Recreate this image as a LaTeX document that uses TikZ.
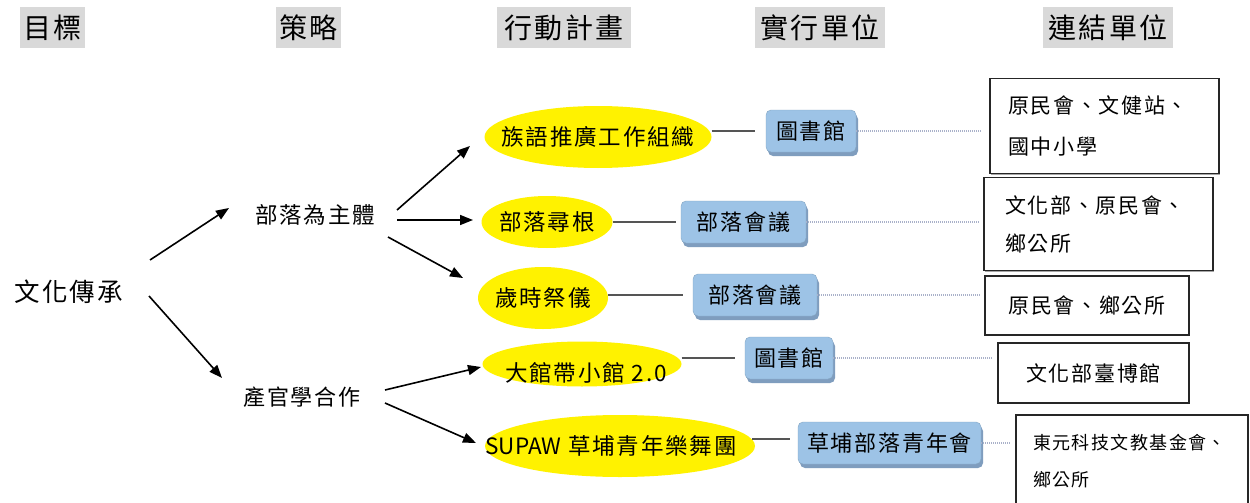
\documentclass[tikz,border=0pt]{standalone}
\usepackage{fontspec}
\setmainfont{Noto Sans CJK TC}
\usetikzlibrary{shapes.geometric,arrows.meta,calc,shadows}
\definecolor{hdr}{HTML}{D9D9D9}
\definecolor{bluebox}{HTML}{9DC3E6}
\definecolor{blueshadow}{HTML}{7F9DBE}
\definecolor{dotcol}{HTML}{A9B1C9}
\definecolor{linecol}{HTML}{555555}
\newcommand{\myfs}[2]{\fontsize{#1}{#2}\selectfont\addfontfeature{LetterSpace=8}}
\begin{document}
\begin{tikzpicture}[x=1pt,y=-1pt,
  hdrbox/.style={fill=hdr,inner sep=0pt,minimum height=41pt,font=\myfs{28}{28}},
  txt/.style={inner sep=0pt},
  ell/.style={ellipse,fill=yellow,inner sep=0pt,font=\myfs{22.5}{22.5}},
  bbox/.style={rectangle,rounded corners=5pt,fill=bluebox,draw=bluebox!85!black,line width=0.4pt,
    inner sep=0pt,minimum height=42pt,font=\myfs{22}{22},
    drop shadow={shadow xshift=2pt,shadow yshift=-4pt,fill=blueshadow,opacity=1}},
  kbox/.style={rectangle,fill=white,draw=black!85,line width=1.3pt,inner ysep=0pt,
    drop shadow={shadow xshift=1.2pt,shadow yshift=-1.2pt,fill=black!35,opacity=1}},
  arr/.style={line width=1.6pt,-{Triangle[length=13pt,width=10pt]}},
  conn/.style={draw=linecol,line width=1.5pt},
  dotconn/.style={draw=dotcol,line width=1.3pt,dash pattern=on 1pt off 1pt}
]
\clip (0,0) rectangle (1250,503);
\fill[white] (0,0) rectangle (1250,503);

% headers
\node[hdrbox,minimum width=65pt]  (h1) at (52.5,28)  {目標};
\node[hdrbox,minimum width=65pt]  (h2) at (308.5,28) {策略};
\node[hdrbox,minimum width=134pt] (h3) at (564,28)   {行動計畫};
\node[hdrbox,minimum width=130pt] (h4) at (820,28)   {實行單位};
\node[hdrbox,minimum width=130pt] (h5) at (1108,28)  {連結單位};

% goal and strategies
\node[txt,font=\myfs{25.5}{25.5}] (goal) at (69,292) {文化傳承};
\node[txt,font=\myfs{22.5}{22.5}] (s1) at (315,215) {部落為主體};
\node[txt,font=\myfs{22}{22}] (s2) at (302,397) {產官學合作};

% action plans
\node[ell,minimum width=227pt,minimum height=62pt] (e1) at (598,137) {\makebox[0pt]{族語推廣工作組織}};
\node[ell,minimum width=131pt,minimum height=52pt] (e2) at (547,222) {\makebox[0pt]{部落尋根}};
\node[ell,minimum width=130pt,minimum height=62pt] (e3) at (543,298) {\makebox[0pt]{歲時祭儀}};
\node[ell,minimum width=199pt,minimum height=45pt] (e4) at (582,364) {\makebox[0pt]{\hspace*{8pt}\raisebox{-17pt}[0pt][0pt]{大館帶小館 2.0}}};
\node[ell,minimum width=270pt,minimum height=62pt] (e5) at (620,446) {\makebox[0pt]{\hspace*{-18pt}{\addfontfeature{LetterSpace=0}SUPAW} 草埔青年樂舞團}};

% executing units
\node[bbox,minimum width=90pt]  (b1) at (811,131)   {圖書館};
\node[bbox,minimum width=125pt] (b2) at (743.5,222) {部落會議};
\node[bbox,minimum width=124pt] (b3) at (755,295)   {部落會議};
\node[bbox,minimum width=88pt]  (b4) at (789,358)   {圖書館};
\node[bbox,minimum width=183pt] (b5) at (889.5,443) {草埔部落青年會};

% linked units
\node[kbox,minimum width=229pt,minimum height=95pt,inner xsep=18pt,text width=193pt,align=left,
  font=\myfs{21}{41}] (k1) at (1104.5,126) {原民會、文健站、\\國中小學};
\node[kbox,minimum width=229pt,minimum height=93pt,inner xsep=21pt,text width=187pt,align=left,
  font=\myfs{21}{38}] (k2) at (1098.5,224) {文化部、原民會、\\鄉公所};
\node[kbox,minimum width=204pt,minimum height=59pt,inner xsep=0pt,font=\myfs{21}{21}] (k3) at (1087,305.5) {原民會、鄉公所};
\node[kbox,minimum width=191pt,minimum height=60pt,inner xsep=0pt,font=\myfs{21}{21}] (k4) at (1093.5,373) {文化部臺博館};
\node[kbox,minimum width=232pt,minimum height=93pt,inner xsep=17pt,text width=198pt,align=left,
  font=\myfs{18}{37}] (k5) at (1132,461.5) {東元科技文教基金會、\\鄉公所};

% arrows
\draw[arr] ($(goal)+(81,-32)$) -- ($(s1)+(-86,-7)$);
\draw[arr] ($(goal)+(80,4)$) -- ($(s2)+(-80,-19)$);
\draw[arr] ($(s1)+(82,-5)$) -- ($(e1)+(-128,9)$);
\draw[arr] ($(s1)+(82,5)$) -- ($(e2)+(-74,-2)$);
\draw[arr] ($(s1)+(73,22)$) -- ($(e3)+(-80,-20)$);
\draw[arr] ($(s2)+(83,-7)$) -- ($(e4)+(-101,3)$);
\draw[arr] ($(s2)+(83,6)$) -- ($(e5)+(-144,-3)$);

% solid connectors
\draw[conn,shorten >=11pt] (e1.east |- b1) -- (b1.west);
\draw[conn,shorten >=5pt] (e2.east |- b2) -- (b2.west);
\draw[conn,shorten >=10pt] (e3.east |- b3) -- (b3.west);
\draw[conn,shorten >=10pt] (e4.east |- b4) -- (b4.west);
\draw[conn,shorten >=8pt] ($(e5.east |- b5)+(-3,-4)$) -- ($(b5.west)+(0,-4)$);

% dotted connectors
\draw[dotconn,shorten >=9pt] (b1.east) -- (b1.east -| k1.west);
\draw[dotconn,shorten >=4pt] (b2.east) -- (b2.east -| k2.west);
\draw[dotconn,shorten >=5pt] (b3.east) -- (b3.east -| k3.west);
\draw[dotconn,shorten >=5pt] (b4.east) -- (b4.east -| k4.west);
\draw[dotconn,shorten >=6pt] (b5.east) -- (b5.east -| k5.west);
\end{tikzpicture}
\end{document}
